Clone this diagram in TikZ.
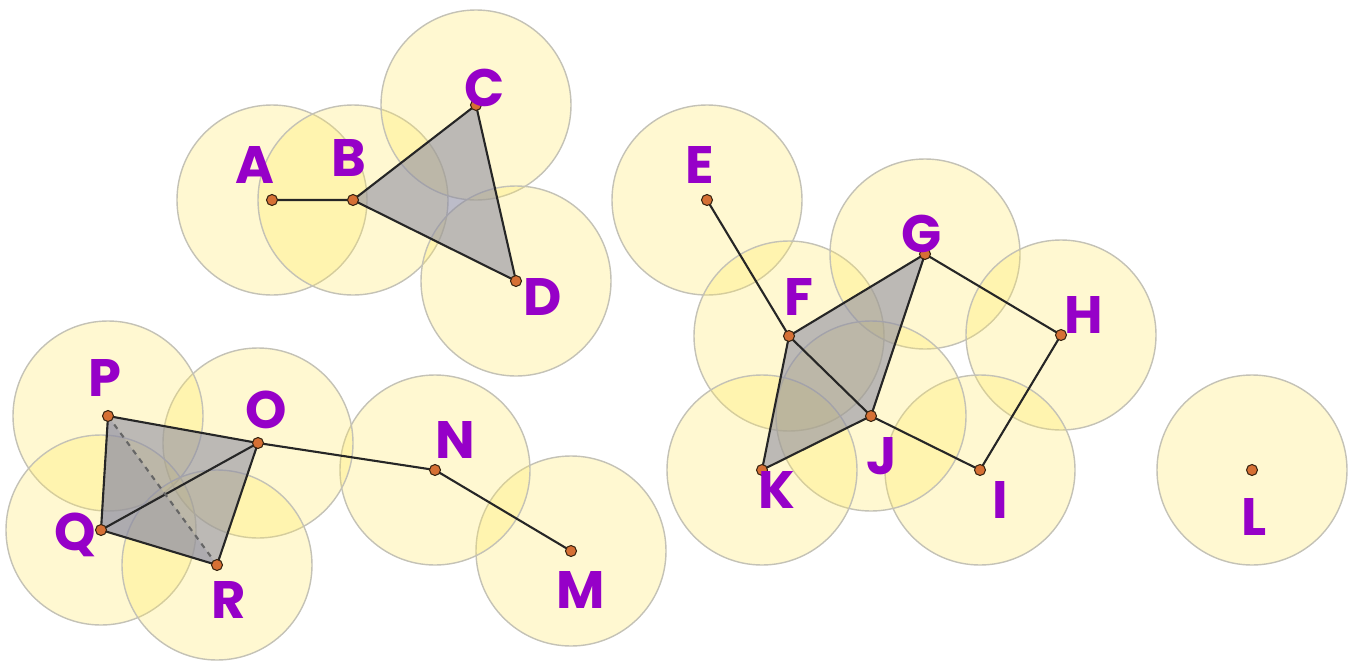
\documentclass[tikz,border=0pt]{standalone}
\usepackage{fontspec}
\setmainfont{Poppins}
\definecolor{zone}{RGB}{255,232,95}
\definecolor{rim}{RGB}{196,194,182}
\definecolor{face}{RGB}{140,140,162}
\definecolor{dot}{RGB}{214,112,52}
\definecolor{ink}{RGB}{150,0,200}
\tikzset{
  zone/.style={fill=zone,fill opacity=.29,draw=rim,line width=.8pt},
  face/.style={fill=face,fill opacity=.58},
  edge/.style={line width=1.2pt,black!85},
  lbl/.style={text=ink,font=\fontsize{30}{30}\selectfont\bfseries,inner sep=0pt}
}
\begin{document}
\begin{tikzpicture}[x=0.02cm,y=-0.02cm]
  \useasboundingbox (0,0) rectangle (1356,663);
  % points
  \coordinate (A) at (272,200);
  \coordinate (B) at (353,200);
  \coordinate (C) at (476,105);
  \coordinate (D) at (516,281);
  \coordinate (E) at (707,200);
  \coordinate (F) at (789,336);
  \coordinate (G) at (925,254);
  \coordinate (H) at (1061,335);
  \coordinate (I) at (980,470);
  \coordinate (J) at (871,416);
  \coordinate (K) at (762,470);
  \coordinate (L) at (1252,470);
  \coordinate (M) at (571,551);
  \coordinate (N) at (435,470);
  \coordinate (O) at (258,443);
  \coordinate (P) at (108,416);
  \coordinate (Q) at (101,530);
  \coordinate (R) at (217,565);
  % zones
  \foreach \p in {A,B,C,D,E,F,G,H,I,J,K,L,M,N,O,P,Q,R}
    \draw[zone] (\p) circle[radius=95];
  % faces
  \fill[face] (B)--(C)--(D)--cycle;
  \fill[face] (F)--(G)--(J)--cycle;
  \fill[face] (F)--(J)--(K)--cycle;
  \fill[face] (P)--(O)--(R)--(Q)--cycle;
  \fill[face,fill opacity=.3] (P)--(Q)--(R)--cycle;
  % edges
  \draw[edge] (A)--(B) (B)--(C)--(D)--(B);
  \draw[edge] (E)--(F) (F)--(G)--(J)--(F) (F)--(K)--(J);
  \draw[edge] (G)--(H)--(I)--(J);
  \draw[edge] (P)--(O)--(R)--(Q)--(P) (Q)--(O);
  \draw[edge,dashed,black!60] (P)--(R);
  \draw[edge] (O)--(N)--(M);
  % dots
  \foreach \p in {A,B,C,D,E,F,G,H,I,J,K,L,M,N,O,P,Q,R}
    \draw[fill=dot,draw=black!70!brown,line width=.6pt] (\p) circle[radius=5.5];
  % labels
  \node[lbl] (lA) at (255,165) {A};
  \node[lbl] (lB) at (349,158) {B};
  \node[lbl] (lC) at (485,88) {C};
  \node[lbl] (lD) at (543,297) {D};
  \node[lbl] (lE) at (700,165) {E};
  \node[lbl] (lF) at (799,297) {F};
  \node[lbl] (lG) at (922,234) {G};
  \node[lbl] (lH) at (1084,315) {H};
  \node[lbl] (lI) at (1000,500) {I};
  \node[lbl] (lJ) at (882,456) {J};
  \node[lbl] (lK) at (777,490) {K};
  \node[lbl] (lL) at (1254,517) {L};
  \node[lbl] (lM) at (581,590) {M};
  \node[lbl] (lN) at (455,440) {N};
  \node[lbl] (lO) at (266,410) {O};
  \node[lbl] (lP) at (105,378) {P};
  \node[lbl] (lQ) at (75,535) {Q};
  \node[lbl] (lR) at (229,600) {R};
\end{tikzpicture}
\end{document}
